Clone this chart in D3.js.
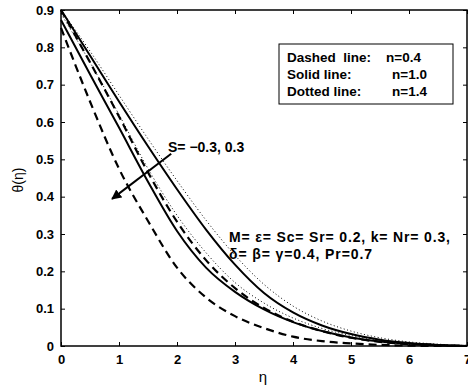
<!DOCTYPE html>
<html><head><meta charset="utf-8">
<script src="https://cdn.jsdelivr.net/npm/d3@7"></script>
<style>body{margin:0;background:#fff}svg{display:block}text{font-family:"Liberation Sans",Arial,sans-serif}</style>
</head><body><svg id="c" width="468" height="390"></svg>
<script>
const eta = [0,0.5,1,1.5,2,2.5,3,3.5,4,4.5,5,5.5,6,6.5,7];
// S = -0.3 (upper group)
const dashedA = [0.900,0.760,0.615,0.465,0.333,0.230,0.155,0.102,0.065,0.040,0.022,0.011,0.005,0.002,0.000];
const solidA  = [0.900,0.778,0.655,0.535,0.420,0.312,0.218,0.142,0.090,0.055,0.032,0.017,0.008,0.003,0.000];
const dottedA = [0.900,0.790,0.672,0.555,0.443,0.337,0.243,0.165,0.107,0.067,0.040,0.022,0.011,0.005,0.001];
// S = 0.3 (lower group)
const dashedB = [0.852,0.655,0.475,0.335,0.210,0.130,0.080,0.048,0.025,0.013,0.007,0.003,0.001,0.000,0.000];
const solidB  = [0.873,0.728,0.585,0.440,0.308,0.210,0.145,0.098,0.064,0.040,0.023,0.012,0.006,0.002,0.000];
const dottedB = [0.890,0.760,0.620,0.475,0.350,0.250,0.170,0.115,0.075,0.047,0.028,0.015,0.007,0.003,0.000];
const xTicks = [0,1,2,3,4,5,6,7];
const yTicks = [0,0.1,0.2,0.3,0.4,0.5,0.6,0.7,0.8,0.9];
const yTickLabels = ["0","0.1","0.2","0.3","0.4","0.5","0.6","0.7","0.8","0.9"];
const legendLines = [["Dashed  line:","n=0.4"],["Solid line:","n=1.0"],["Dotted line:","n=1.4"]];
const arrowFrom = [1.90,0.515], arrowTo = [0.88,0.394];

const svg = d3.select("#c");
const L=61,R=467,T=10,B=346;
const x = d3.scaleLinear().domain([0,7]).range([L,R]);
const y = d3.scaleLinear().domain([0,0.9]).range([B,T]);

const gx = svg.append("g").attr("transform",`translate(0,${B})`)
  .call(d3.axisBottom(x).tickValues(xTicks).tickSize(-4).tickPadding(9).tickFormat(d3.format("d")));
const gxt = svg.append("g").attr("transform",`translate(0,${T})`)
  .call(d3.axisTop(x).tickValues(xTicks).tickSize(-4).tickFormat(""));
const gy = svg.append("g").attr("transform",`translate(${L},0)`)
  .call(d3.axisLeft(y).tickValues(yTicks).tickSize(-4).tickPadding(7).tickFormat((d,i)=>yTickLabels[i]));
const gyr = svg.append("g").attr("transform",`translate(${R},0)`)
  .call(d3.axisRight(y).tickValues(yTicks).tickSize(-4).tickFormat(""));
[gx,gxt,gy,gyr].forEach(g=>{
  g.select(".domain").remove();
  g.selectAll(".tick line").attr("stroke","#000").attr("stroke-width",1);
  g.selectAll("text").attr("font-size","13px").attr("font-weight","bold").attr("fill","#000")
   .attr("font-family","'Liberation Sans',Arial,sans-serif");
});
gx.selectAll("text").attr("dy","0.71em");
svg.append("rect").attr("x",L).attr("y",T).attr("width",R-L).attr("height",B-T)
  .attr("fill","none").attr("stroke","#000").attr("stroke-width",1.5);

const line = d3.line().x((d,i)=>x(eta[i])).y(d=>y(d)).curve(d3.curveMonotoneX);
const styles = {dashed:{w:2.2,da:"8,5"}, solid:{w:2,da:null}, dotted:{w:1,da:"1,2.5"}};
const series = [[dashedA,"dashed"],[solidA,"solid"],[dottedA,"dotted"],[dashedB,"dashed"],[solidB,"solid"],[dottedB,"dotted"]];
series.forEach(([vals,st])=>{
  svg.append("path").attr("d",line(vals)).attr("fill","none").attr("stroke","#000")
    .attr("stroke-width",styles[st].w).attr("stroke-dasharray",styles[st].da);
});

// arrow
svg.append("defs").append("marker").attr("id","ah").attr("viewBox","0 0 10 10").attr("refX",9).attr("refY",5)
  .attr("markerWidth",10).attr("markerHeight",10).attr("markerUnits","userSpaceOnUse").attr("orient","auto")
  .append("path").attr("d","M0,0 L10,5 L0,10 Z").attr("fill","#000");
svg.append("line").attr("x1",x(arrowFrom[0])).attr("y1",y(arrowFrom[1]))
  .attr("x2",x(arrowTo[0])).attr("y2",y(arrowTo[1])).attr("stroke","#000").attr("stroke-width",2)
  .attr("marker-end","url(#ah)");

// annotations
const ann = svg.append("g").attr("font-size","14px").attr("font-weight","bold");
ann.append("text").attr("x",168).attr("y",152).text("S= \u22120.3, 0.3");
ann.append("text").attr("x",229).attr("y",242).attr("textLength",221).attr("lengthAdjust","spacing")
  .text("M= \u03b5= Sc= Sr= 0.2, k= Nr= 0.3,");
ann.append("text").attr("x",229).attr("y",259).attr("textLength",143).attr("lengthAdjust","spacing")
  .text("\u03b4= \u03b2= \u03b3=0.4, Pr=0.7");

// legend box
svg.append("rect").attr("x",279).attr("y",44).attr("width",174).attr("height",60)
  .attr("fill","#fff").attr("stroke","#000").attr("stroke-width",1);
const lg = svg.append("g").attr("font-size","13.5px").attr("font-weight","bold");
legendLines.forEach((r,i)=>{
  lg.append("text").attr("x",287).attr("y",62+i*17).attr("xml:space","preserve").style("white-space","pre").text(r[0]);
  lg.append("text").attr("x",i==0?386:392).attr("y",62+i*17).text(r[1]);
});

// axis titles
svg.append("text").attr("transform","translate(23,180) rotate(-90)").attr("text-anchor","middle")
  .attr("font-size","14px").text("\u03b8(\u03b7)");
svg.append("text").attr("x",263).attr("y",382).attr("text-anchor","middle").attr("font-size","15px").text("\u03b7");
</script></body></html>
